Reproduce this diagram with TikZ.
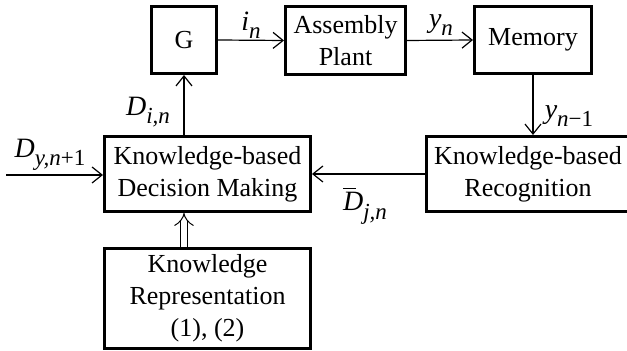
\documentclass[tikz,border=0pt]{standalone}
\usepackage{fontspec}
\setmainfont{Liberation Serif}
\usetikzlibrary{arrows.meta}
\newcommand{\lowsub}[1]{\raisebox{-0.3em}{\fontsize{11.5}{12}\selectfont #1}}
\newcommand{\mysub}[2]{\textit{#1}\lowsub{\textit{#2}}}
\begin{document}
\begin{tikzpicture}[x=0.5pt,y=-0.5pt,
  box/.style={draw, line width=1.5pt, inner sep=0pt, align=center, font=\fontsize{13}{16}\selectfont},
  arr/.style={line width=0.6pt, -{Straight Barb[length=5pt,width=8pt,line width=0.6pt]}},
  dbl/.style={double, double distance=3pt, line width=0.5pt, -{Implies}},
  lab/.style={font=\fontsize{14}{16}\selectfont, inner sep=0pt}]
\useasboundingbox (0,0) rectangle (627,351);
\node[box, minimum width=32.5pt, minimum height=33.5pt] (G) at (184,40) {G};
\node[box, minimum width=60pt, minimum height=34pt] (AP) at (345.5,40.5) {Assembly\\Plant};
\node[box, minimum width=58.5pt, minimum height=33.5pt] (M) at (533,40) {Memory};
\node[box, minimum width=102pt, minimum height=37.5pt] (R) at (528,174) {Knowledge-based\\Recognition};
\node[box, minimum width=103pt, minimum height=37.5pt] (DM) at (207.5,174) {Knowledge-based\\Decision Making};
\node[box, minimum width=103pt, minimum height=50pt] (KR) at (207.5,298.5) {Knowledge\\Representation\\(1), (2)};
\coordinate (in) at (6,175);
\draw[arr] (G.east) -- (AP.west);
\draw[arr] (AP.east) -- (M.west);
\draw[arr] (M.south) -- (M.south |- R.north);
\draw[arr] (R.west) -- (DM.east);
\draw[arr] (G.south |- DM.north) -- (G.south);
\draw[arr] (in) -- (DM.west |- in);
\draw[dbl] (KR.north -| G.south) -- (DM.south -| G.south);
\node[lab] (li) at (251,25) {\mysub{i}{n}};
\node[lab] (ly) at (441,25) {\mysub{y}{n}};
\node[lab] (lyy) at (569,116) {\mysub{y}{n}\lowsub{\textminus1}};
\node[lab] (ld) at (148,112) {\mysub{D}{i,n}};
\node[lab] (ldy) at (50,155) {\mysub{D}{y,n}\lowsub{+1}};
\node[lab] (ldj) at (365,206) {\rlap{\raisebox{0.78em}{\rule{0.45em}{0.5pt}}}\mysub{D}{j,n}};
\end{tikzpicture}
\end{document}
